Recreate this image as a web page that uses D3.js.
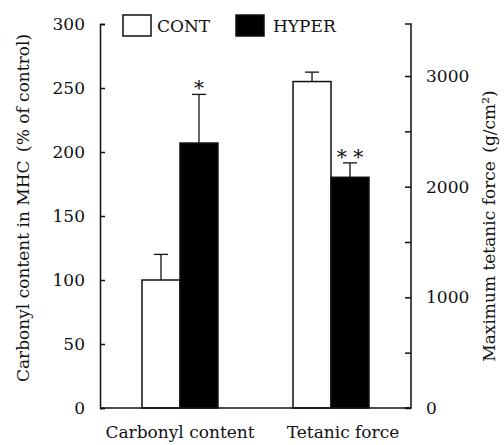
<!DOCTYPE html>
<html>
<head>
<meta charset="utf-8">
<script src="https://cdn.jsdelivr.net/npm/d3@7"></script>
<style>
  body { margin: 0; background: #fff; }
  svg text { font-family: "DejaVu Serif", serif; fill: #111; }
</style>
</head>
<body>
<div id="chart"></div>
<script>
// groups on the x axis
const categories = ["Carbonyl content", "Tetanic force"];
const series = ["CONT", "HYPER"];
// carbonyl in % of control (left axis), tetanic force in g/cm2 (right axis)
const carbonylMean = [100, 207];
const carbonylErr = [20, 38];
const forceMean = [2950, 2085];
const forceErr = [85, 130];
const marks = ["", "*", "", "* *"];
const leftTicks = [0, 50, 100, 150, 200, 250, 300];
const rightTicks = [0, 500, 1000, 1500, 2000, 2500, 3000];

const W = 504, H = 445;
const margin = {top: 24, right: 93, bottom: 37, left: 100};
const width = W - margin.left - margin.right,
    height = H - margin.top - margin.bottom;
const fontSize = "17px";

const svg = d3.select("#chart").append("svg")
    .attr("width", W).attr("height", H);
const g = svg.append("g")
    .attr("transform", `translate(${margin.left},${margin.top})`);

const yL = d3.scaleLinear().domain([0, 300]).range([height, 0]);
const yR = d3.scaleLinear().domain([0, 3470]).range([height, 0]);
const x0 = d3.scaleBand().domain(categories).range([0, width]).paddingInner(0.497).paddingOuter(0.278);
const x1 = d3.scaleBand().domain(series).range([0, x0.bandwidth()]);

// bars, one row per group/series
const rows = [];
categories.forEach((c, i) => {
    series.forEach((s, j) => {
        const isLeft = i === 0;
        const mean = isLeft ? carbonylMean[j] : forceMean[j];
        const err = isLeft ? carbonylErr[j] : forceErr[j];
        rows.push({c, s, mean, err, y: isLeft ? yL : yR, mark: marks[i * 2 + j]});
    });
});
const cx = d => x0(d.c) + x1(d.s) + x1.bandwidth() / 2;

// error bars (drawn before bars so the stem starts at bar top)
const eb = g.append("g").selectAll("g").data(rows).enter().append("g");
eb.append("line")
    .attr("x1", cx).attr("x2", cx)
    .attr("y1", d => d.y(d.mean))
    .attr("y2", d => d.y(d.mean + d.err))
    .attr("stroke", "#111").attr("stroke-width", 1.3);
eb.append("line")
    .attr("x1", d => cx(d) - 7)
    .attr("x2", d => cx(d) + 7)
    .attr("y1", d => d.y(d.mean + d.err))
    .attr("y2", d => d.y(d.mean + d.err))
    .attr("stroke", "#111").attr("stroke-width", 1.3);
eb.append("text")
    .attr("x", cx)
    .attr("y", d => d.y(d.mean + d.err) + 1)
    .attr("text-anchor", "middle")
    .style("font-size", "20px")
    .text(d => d.mark);

g.append("g").selectAll("rect").data(rows).enter().append("rect")
    .attr("x", d => x0(d.c) + x1(d.s))
    .attr("width", x1.bandwidth())
    .attr("y", d => d.y(d.mean))
    .attr("height", d => height - d.y(d.mean))
    .attr("fill", d => d.s === "CONT" ? "#fff" : "#000")
    .attr("stroke", "#111").attr("stroke-width", 1.5);

// axes
const axL = g.append("g")
    .call(d3.axisLeft(yL).tickValues(leftTicks).tickSizeInner(-5).tickSizeOuter(-5).tickPadding(15));
const axR = g.append("g")
    .attr("transform", `translate(${width},0)`)
    .call(d3.axisRight(yR).tickValues(rightTicks).tickSizeInner(-6).tickSizeOuter(-6).tickPadding(15)
        .tickFormat(d => d % 1000 === 0 ? d : ""));
[axL, axR].forEach(a => {
    a.attr("font-family", null).attr("font-size", null);
    a.selectAll("path, line").attr("stroke", "#111").attr("stroke-width", 1.5);
    a.selectAll("text").style("font-size", fontSize);
});
axR.select(".domain").attr("d", `M-6,0H0V${height}H-6`);

g.append("line")
    .attr("x1", 0).attr("x2", width)
    .attr("y1", height).attr("y2", height)
    .attr("stroke", "#111").attr("stroke-width", 1.5);

// category labels (second one sits a little right of its group in the original)
g.append("g").selectAll("text").data(categories).enter().append("text")
    .attr("x", (d, i) => x0(d) + x0.bandwidth() / 2 + i * 12)
    .attr("y", height + 30)
    .attr("text-anchor", "middle")
    .style("font-size", fontSize)
    .text(d => d);

// axis titles
svg.append("text")
    .attr("transform", `translate(29,${margin.top + height / 2 - 8}) rotate(-90)`)
    .attr("text-anchor", "middle")
    .style("font-size", fontSize)
    .text("Carbonyl content in MHC\u2002(% of control)");
svg.append("text")
    .attr("transform", `translate(495,${margin.top + height / 2 + 10}) rotate(-90)`)
    .attr("text-anchor", "middle")
    .style("font-size", fontSize)
    .text("Maximum tetanic force\u2002(g/cm\u00b2)");

// legend
const leg = svg.append("g").selectAll("g").data(series).enter().append("g")
    .attr("transform", (d, i) => `translate(${123 + i * 113},15)`);
leg.append("rect")
    .attr("width", 28).attr("height", 21)
    .attr("fill", d => d === "CONT" ? "#fff" : "#000")
    .attr("stroke", "#111").attr("stroke-width", 1.5);
leg.append("text")
    .attr("x", (d, i) => i === 0 ? 34 : 37)
    .attr("y", 17)
    .style("font-size", fontSize)
    .text(d => d);
</script>
</body>
</html>
